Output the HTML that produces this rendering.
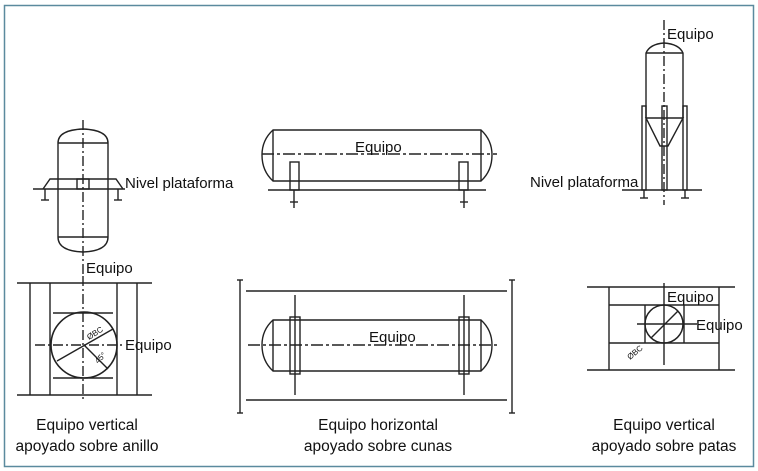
<!DOCTYPE html>
<html><head><meta charset="utf-8"><style>
html,body{margin:0;padding:0;background:#fff;}
svg{display:block;}
text{font-family:"Liberation Sans",sans-serif;fill:#111;}
</style></head><body>
<svg width="758" height="471" viewBox="0 0 758 471" xmlns="http://www.w3.org/2000/svg">
<rect x="0" y="0" width="758" height="471" fill="#fff"/>
<rect x="4.5" y="5.5" width="749" height="461" fill="none" stroke="#5b8a9e" stroke-width="1.5"/>
<g stroke="#222" stroke-width="1.4" fill="none">
<path d="M58 143 Q58 130 83 129 Q108 130 108 143 L108 237 Q108 251 83 252 Q58 251 58 237 Z"/>
<line x1="58" y1="143" x2="108" y2="143"/><line x1="58" y1="237" x2="108" y2="237"/>
<path d="M43 189 L50 179 L116 179 L123 189"/>
<line x1="33" y1="189" x2="125" y2="189"/>
<rect x="77" y="179" width="12" height="10"/>
<line x1="45" y1="189" x2="45" y2="200"/><line x1="41" y1="200" x2="49" y2="200"/>
<line x1="118" y1="189" x2="118" y2="200"/><line x1="114" y1="200" x2="122" y2="200"/>
<line x1="83" y1="120" x2="83" y2="276" stroke-dasharray="10 3 2 3"/>
<line x1="17" y1="283" x2="152" y2="283"/><line x1="17" y1="395" x2="152" y2="395"/>
<line x1="30" y1="283" x2="30" y2="395"/><line x1="50" y1="283" x2="50" y2="395"/>
<line x1="117" y1="283" x2="117" y2="395"/><line x1="137" y1="283" x2="137" y2="395"/>
<line x1="53" y1="313" x2="113" y2="313"/><line x1="53" y1="378" x2="113" y2="378"/>
<circle cx="84" cy="345" r="33" stroke-width="1.6"/>
<line x1="57" y1="361" x2="113" y2="329"/><line x1="84" y1="345" x2="108" y2="369"/>
<line x1="35" y1="345" x2="125" y2="345" stroke-dasharray="10 3 2 3"/>
<line x1="83" y1="276" x2="83" y2="402" stroke-dasharray="10 3 2 3"/>
<path d="M273 130 L481 130 Q492 140 492 155 Q492 171 481 181 L273 181 Q262 171 262 155 Q262 140 273 130 Z"/>
<line x1="273" y1="130" x2="273" y2="181"/><line x1="481" y1="130" x2="481" y2="181"/>
<line x1="262" y1="154" x2="497" y2="154" stroke-dasharray="12 3 3 3"/>
<rect x="290" y="162" width="9" height="28"/><rect x="459" y="162" width="9" height="28"/>
<line x1="268" y1="190" x2="486" y2="190"/>
<line x1="294" y1="190" x2="294" y2="208"/><line x1="290" y1="202" x2="298" y2="202"/>
<line x1="464" y1="190" x2="464" y2="208"/><line x1="460" y1="202" x2="468" y2="202"/>
<line x1="240" y1="280" x2="240" y2="413"/><line x1="237" y1="280" x2="243" y2="280"/><line x1="237" y1="413" x2="243" y2="413"/>
<line x1="512" y1="280" x2="512" y2="413"/><line x1="509" y1="280" x2="515" y2="280"/><line x1="509" y1="413" x2="515" y2="413"/>
<line x1="246" y1="291" x2="507" y2="291"/><line x1="246" y1="400" x2="507" y2="400"/>
<path d="M273 320 L481 320 Q492 330 492 345 Q492 361 481 371 L273 371 Q262 361 262 345 Q262 330 273 320 Z"/>
<line x1="273" y1="320" x2="273" y2="371"/><line x1="481" y1="320" x2="481" y2="371"/>
<line x1="248" y1="345" x2="497" y2="345" stroke-dasharray="12 3 3 3"/>
<rect x="290" y="317" width="10" height="57"/><rect x="459" y="317" width="10" height="57"/>
<line x1="295" y1="295" x2="295" y2="395"/><line x1="464" y1="295" x2="464" y2="395"/>
<path d="M646 118 L646 53 Q650 44 664 43 Q679 44 683 53 L683 118"/>
<line x1="646" y1="53" x2="683" y2="53"/>
<path d="M646 118 L683 118 L668 146 L660 146 Z"/>
<rect x="642" y="106" width="4" height="84"/><rect x="683" y="106" width="4" height="84"/>
<rect x="662" y="106" width="5" height="84"/>
<line x1="622" y1="190" x2="702" y2="190"/>
<line x1="644" y1="190" x2="644" y2="198"/><line x1="640" y1="198" x2="648" y2="198"/>
<line x1="685" y1="190" x2="685" y2="198"/><line x1="681" y1="198" x2="689" y2="198"/>
<line x1="664" y1="20" x2="664" y2="205" stroke-dasharray="10 3 2 3"/>
<line x1="587" y1="287" x2="735" y2="287"/><line x1="587" y1="370" x2="735" y2="370"/>
<line x1="609" y1="287" x2="609" y2="370"/><line x1="719" y1="287" x2="719" y2="370"/>
<line x1="609" y1="305" x2="719" y2="305"/><line x1="609" y1="343" x2="719" y2="343"/>
<line x1="645" y1="305" x2="645" y2="343"/><line x1="684" y1="305" x2="684" y2="343"/>
<circle cx="664" cy="324" r="19" stroke-width="1.5"/>
<line x1="651" y1="338" x2="678" y2="311"/>
<line x1="664" y1="283" x2="664" y2="365"/>
<line x1="637" y1="324" x2="697" y2="324"/>
</g>
<g font-size="15">
<text x="125" y="188">Nivel plataforma</text>
<text x="86" y="273">Equipo</text>
<text x="125" y="350">Equipo</text>
<text x="355" y="152">Equipo</text>
<text x="369" y="342">Equipo</text>
<text x="667" y="39">Equipo</text>
<text x="530" y="187">Nivel plataforma</text>
<text x="667" y="302">Equipo</text>
<text x="696" y="330">Equipo</text>
</g>
<g font-size="8">
<text x="0" y="0" transform="translate(89,340) rotate(-32)">ØBC</text>
<text x="0" y="0" transform="translate(98,364) rotate(-45)">45°</text>
<text x="0" y="0" transform="translate(630,360) rotate(-40)">ØBC</text>
</g>
<g font-size="15.5" text-anchor="middle">
<text x="87" y="430">Equipo vertical</text>
<text x="87" y="451">apoyado sobre anillo</text>
<text x="378" y="430">Equipo horizontal</text>
<text x="378" y="451">apoyado sobre cunas</text>
<text x="664" y="430">Equipo vertical</text>
<text x="664" y="451">apoyado sobre patas</text>
</g>
</svg>
</body></html>
